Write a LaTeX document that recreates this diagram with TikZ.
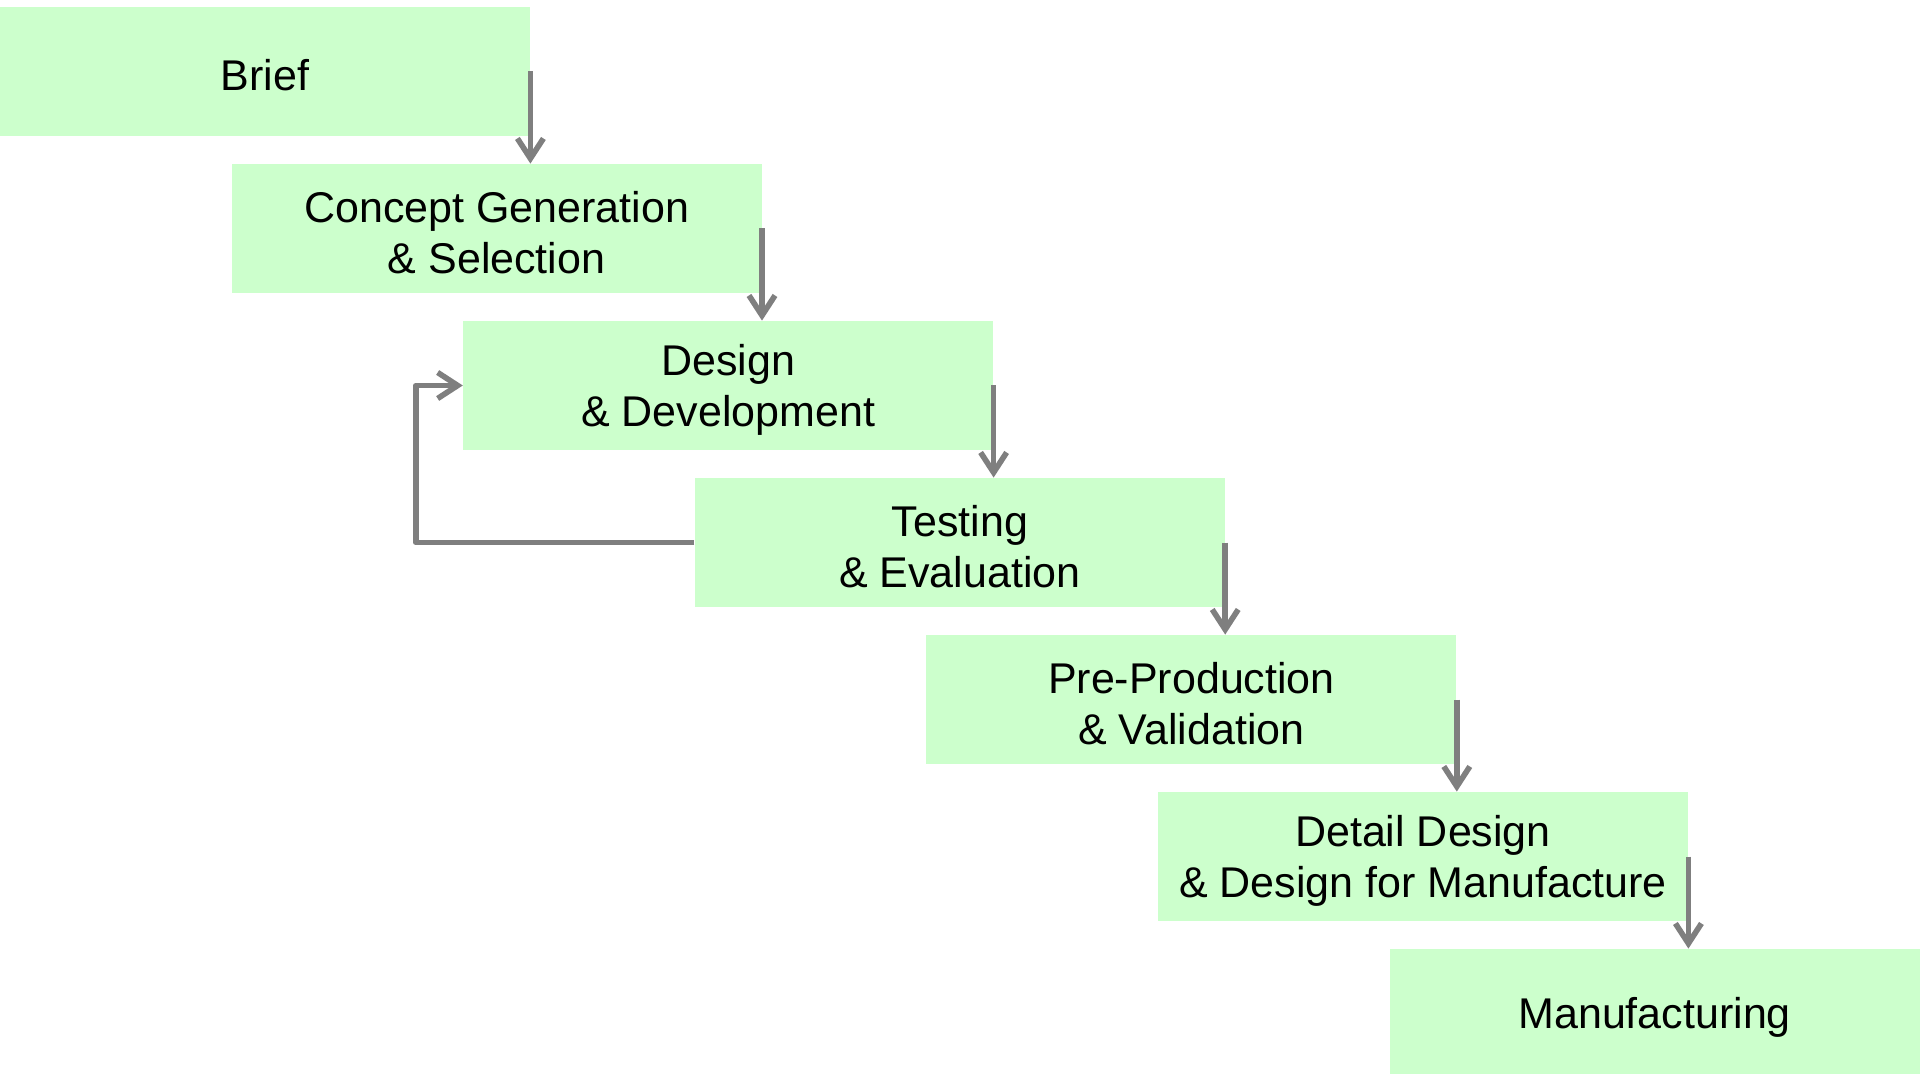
\documentclass[tikz,border=0pt]{standalone}
\usepackage{fontspec}
\setmainfont{Liberation Sans}
\usetikzlibrary{arrows.meta,calc}
\definecolor{stagefill}{HTML}{CCFFCC}
\definecolor{flowgray}{HTML}{7F7F7F}
\begin{document}
\begin{tikzpicture}[x=0.5pt,y=-0.5pt,
  stage/.style={fill=stagefill, draw=none, minimum width=265pt, minimum height=64.5pt,
    inner sep=0pt},
  stagetext/.style={inner sep=0pt, align=center, font=\fontsize{21.5pt}{25.5pt}\selectfont},
  flow/.style={draw=flowgray, line width=2.8pt, line join=round,
    -{Straight Barb[length=10pt,width=13pt,line width=2.8pt]}}]
\useasboundingbox (0,0) rectangle (1920,1074);
% the seven stages, stepped down to the right
\node[stage] (b0) at (265,71.5)     {};
\node[stage] (b1) at (496.6,228.5)  {};
\node[stage] (b2) at (728.2,385.5)  {};
\node[stage] (b3) at (959.8,542.5)  {};
\node[stage] (b4) at (1191.4,699.5) {};
\node[stage] (b5) at (1423,856.5)   {};
\node[stage] (b6) at (1654.6,1013.5){};
% stage titles, set a little below each box centre
\node[stagetext] (t0) at ([yshift=-2pt]b0.center) {Brief};
\node[stagetext] (t1) at ([yshift=-2pt]b1.center) {Concept Generation\\\& Selection};
\node[stagetext] (t2) at ([yshift=-2pt]b2.center) {Design\\\& Development};
\node[stagetext] (t3) at ([yshift=-2pt]b3.center) {Testing\\\& Evaluation};
\node[stagetext] (t4) at ([yshift=-2pt]b4.center) {Pre-Production\\\& Validation};
\node[stagetext] (t5) at ([yshift=-2pt]b5.center) {Detail Design\\\& Design for Manufacture};
\node[stagetext] (t6) at ([yshift=-2pt]b6.center) {Manufacturing};
% downward flow from each stage's right edge into the next one
\foreach \a/\b in {b0/b1,b1/b2,b2/b3,b3/b4,b4/b5,b5/b6}
  \draw[flow] (\a.east) -- (\a.east |- \b.north);
% iteration loop from testing back to design
\coordinate (loopcorner) at ($(b2.west)+(-47,0)$);
\draw[flow] (b3.west) -| (loopcorner) -- (b2.west);
\end{tikzpicture}
\end{document}
